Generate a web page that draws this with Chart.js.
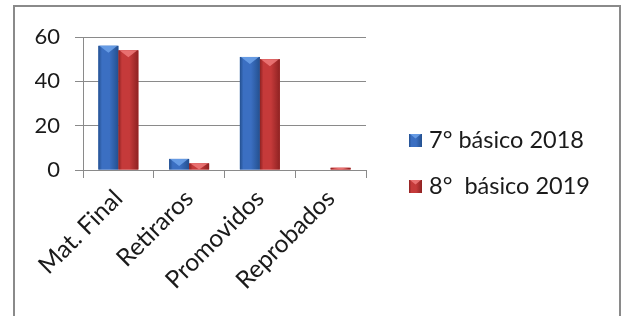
<!DOCTYPE html>
<html>
<head>
<meta charset="utf-8">
<script src="https://cdn.jsdelivr.net/npm/chart.js@4/dist/chart.umd.min.js"></script>
<style>
  html, body { margin: 0; padding: 0; background: #fff; overflow: hidden; }
  #wrap { position: relative; width: 623px; height: 316px; }
  #frame { position: absolute; left: 13px; top: 5px; width: 604px; height: 400px;
           border: 2px solid #8a8a8a; border-bottom: none; pointer-events: none; }
  canvas { position: absolute; left: 0; top: 0; }
</style>
</head>
<body>
<div id="wrap">
  <canvas id="c" width="623" height="316"></canvas>
  <div id="frame"></div>
</div>
<script>
const categories = ["Mat. Final", "Retiraros", "Promovidos", "Reprobados"];
const seriesNames = ["7° básico 2018", "8°  básico 2019"];
const values2018 = [56, 5, 51, 0];
const values2019 = [54, 3, 50, 1];
const yTicks = [0, 20, 40, 60];

const FONT = "Lato, 'Open Sans', sans-serif";
const palette = [
  { base: "#3b6fc2", dark: "#24508f", light: "#6fa3ea" },
  { base: "#c53a3a", dark: "#8e2222", light: "#ef7a7a" }
];

function shade(ctx, x, y, w, h, col) {
  if (h <= 0 || w <= 0) return;
  const g = ctx.createLinearGradient(x, 0, x + w, 0);
  g.addColorStop(0, col.dark);
  g.addColorStop(0.18, col.base);
  g.addColorStop(0.55, col.base);
  g.addColorStop(1, col.dark);
  ctx.fillStyle = g;
  ctx.fillRect(x, y, w, h);
  const th = Math.min(h, w * 0.35);
  ctx.fillStyle = col.light;
  ctx.beginPath();
  ctx.moveTo(x + 1, y);
  ctx.lineTo(x + w - 1, y);
  ctx.lineTo(x + w / 2, y + th);
  ctx.closePath();
  ctx.globalAlpha = 0.85;
  ctx.fill();
  ctx.globalAlpha = 1;
}

const barShading = {
  id: "barShading",
  afterDatasetsDraw(chart) {
    const ctx = chart.ctx;
    ctx.save();
    chart.data.datasets.forEach((ds, i) => {
      const meta = chart.getDatasetMeta(i);
      meta.data.forEach(bar => {
        const p = bar.getProps(["x", "y", "base", "width"], true);
        const x = p.x - p.width / 2;
        const top = Math.min(p.y, p.base);
        const h = Math.abs(p.base - p.y);
        shade(ctx, x, top, p.width, h, palette[i]);
      });
    });
    ctx.restore();
  }
};

const customLegend = {
  id: "customLegend",
  afterDraw(chart) {
    const ctx = chart.ctx;
    const area = chart.chartArea;
    ctx.save();
    ctx.font = "23.5px " + FONT;
    ctx.textBaseline = "middle";
    ctx.textAlign = "left";
    chart.data.datasets.forEach((ds, i) => {
      const bx = area.right + 43;
      const cy = 140 + i * 46;
      shade(ctx, bx, cy - 6, 13, 13, palette[i]);
      ctx.fillStyle = "#1a1a1a";
      ctx.fillText(ds.label, bx + 20, cy);
    });
    ctx.restore();
  }
};

new Chart(document.getElementById("c"), {
  type: "bar",
  data: {
    labels: categories,
    datasets: [
      { label: seriesNames[0], data: values2018, backgroundColor: palette[0].base },
      { label: seriesNames[1], data: values2019, backgroundColor: palette[1].base }
    ]
  },
  options: {
    responsive: false,
    animation: false,
    devicePixelRatio: 1,
    layout: { padding: { left: 35, top: 37, right: 257, bottom: 0 } },
    datasets: { bar: { categoryPercentage: 0.565, barPercentage: 1.0 } },
    plugins: { legend: { display: false }, tooltip: { enabled: false } },
    scales: {
      x: {
        afterFit(scale) { scale.height = 146; },
        grid: { offset: true, drawOnChartArea: false, drawTicks: true, tickLength: 8, color: "#8a8a8a" },
        border: { display: true, color: "#8a8a8a" },
        ticks: { minRotation: 45, maxRotation: 45, padding: 6, color: "#1a1a1a", font: { family: FONT, size: 24.5 } }
      },
      y: {
        min: 0, max: 60,
        afterFit(scale) { scale.width = 48; },
        afterBuildTicks(scale) { scale.ticks = yTicks.map(v => ({ value: v })); },
        grid: { drawTicks: true, tickLength: 8, color: "#8a8a8a" },
        border: { display: true, color: "#8a8a8a" },
        ticks: { padding: 15, color: "#1a1a1a", font: { family: FONT, size: 22 } }
      }
    }
  },
  plugins: [barShading, customLegend]
});
</script>
</body>
</html>
